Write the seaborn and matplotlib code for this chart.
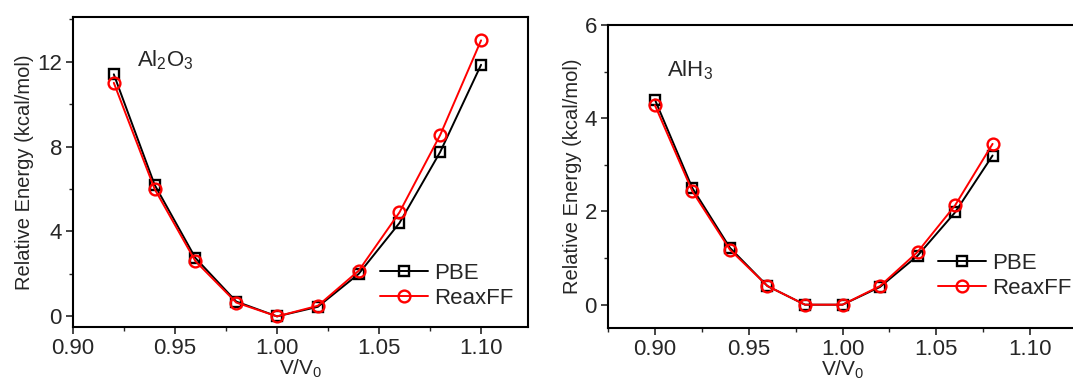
import matplotlib
matplotlib.use("Agg")
import matplotlib.pyplot as plt
import seaborn as sns
from matplotlib.ticker import MultipleLocator

sns.set_style("ticks")
plt.rcParams['font.family'] = ['Liberation Sans', 'DejaVu Sans']
plt.rcParams['mathtext.fontset'] = 'custom'
plt.rcParams['mathtext.rm'] = 'Liberation Sans'
plt.rcParams['mathtext.it'] = 'Liberation Sans'

# Al2O3 data
x_al2o3 = [0.92, 0.94, 0.96, 0.98, 1.00, 1.02, 1.04, 1.06, 1.08, 1.10]
pbe_al2o3 = [11.4, 6.2, 2.75, 0.7, 0.0, 0.45, 2.0, 4.4, 7.75, 11.85]
reax_al2o3 = [11.0, 6.0, 2.6, 0.65, 0.0, 0.5, 2.15, 4.9, 8.55, 13.0]

# AlH3 data
x_alh3 = [0.90, 0.92, 0.94, 0.96, 0.98, 1.00, 1.02, 1.04, 1.06, 1.08]
pbe_alh3 = [4.4, 2.5, 1.22, 0.4, 0.0, 0.0, 0.38, 1.05, 1.98, 3.2]
reax_alh3 = [4.28, 2.43, 1.18, 0.4, 0.0, 0.0, 0.4, 1.13, 2.13, 3.45]

series_labels = ["PBE", "ReaxFF"]
xticks = [0.90, 0.95, 1.00, 1.05, 1.10]

W, H = 1073, 385
fig = plt.figure(figsize=(W/100, H/100), dpi=100)
ax1 = fig.add_axes([73/W, 1-327/H, 455/W, 310/H])
ax2 = fig.add_axes([608/W, 1-328/H, 469/W, 303/H])

def draw(ax, x, pbe, reax, leg_x, leg_y):
    sns.lineplot(x=x, y=pbe, ax=ax, color='black', lw=1.4, marker='s', ms=7,
                 mfc='none', mec='black', mew=1.7, label=series_labels[0])
    sns.lineplot(x=x, y=reax, ax=ax, color='red', lw=1.4, marker='o', ms=8.5,
                 mfc='none', mec='red', mew=1.7, label=series_labels[1])
    ax.set_xticks(xticks)
    ax.set_xticklabels([f"{t:.2f}" for t in xticks])
    ax.xaxis.set_minor_locator(MultipleLocator(0.025))
    ax.tick_params(which='major', direction='out', length=5, width=1.2, labelsize=16, pad=3)
    ax.tick_params(which='minor', direction='out', length=3, width=1.0)
    for s in ax.spines.values():
        s.set_linewidth(1.5)
        s.set_color('black')
    ax.set_xlabel("V/V$_0$", fontsize=15, labelpad=-1)
    ax.set_ylabel("Relative Energy (kcal/mol)", fontsize=14.5, labelpad=2)
    ax.legend(frameon=False, fontsize=16, handlelength=2.15, handletextpad=0.3,
              labelspacing=0.2, loc='center left', borderaxespad=0, borderpad=0,
              bbox_to_anchor=(leg_x/W, 1-leg_y/H), bbox_transform=fig.transFigure)

draw(ax1, x_al2o3, pbe_al2o3, reax_al2o3, 380, 286)
ax1.set_xlim(0.90, 1.123)
ax1.set_ylim(-0.5, 14.1)
ax1.set_yticks([0, 4, 8, 12])
ax1.yaxis.set_minor_locator(MultipleLocator(2))
ax1.text(0.14, 0.86, "Al$_2$O$_3$", transform=ax1.transAxes, fontsize=16, va='center')

draw(ax2, x_alh3, pbe_alh3, reax_alh3, 938, 276)
ax2.set_xlim(0.875, 1.125)
ax2.set_ylim(-0.5, 6)
ax2.set_yticks([0, 2, 4, 6])
ax2.yaxis.set_minor_locator(MultipleLocator(1))
ax2.text(0.125, 0.85, "AlH$_3$", transform=ax2.transAxes, fontsize=16, va='center')

fig.savefig("out.png", dpi=100)
